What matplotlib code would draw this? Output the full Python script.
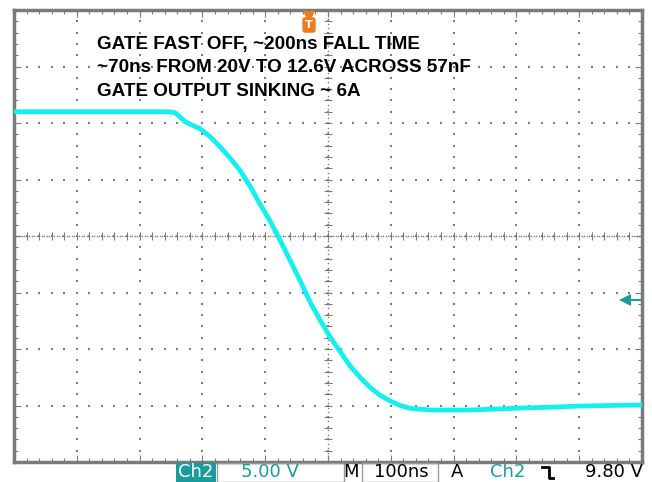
import numpy as np
import matplotlib
matplotlib.use("Agg")
import matplotlib.pyplot as plt
from matplotlib.patches import Rectangle
from matplotlib.lines import Line2D

# trace (time in ns, volts)
time_ns = [-470, -400, -330, -270, -225, -213, -205, -197, -190, -174, -158, -142,
           -126, -110, -94, -78, -62, -46, -30, -14, 2, 18, 33, 49, 65, 81,
           97, 113, 129, 145, 161, 193, 225, 256, 304, 336, 384, 431, 479, 530]
volts = [26.5, 26.5, 26.5, 26.5, 26.5, 26.4, 26.0, 25.6, 25.4, 25.0, 24.3, 23.4,
         22.4, 21.3, 19.9, 18.3, 16.8, 15.1, 13.3, 11.5, 9.6, 8.0, 6.6, 5.3, 4.0, 3.0,
         2.1, 1.4, 0.9, 0.5, 0.25, 0.1, 0.1, 0.1, 0.2, 0.27, 0.35, 0.45, 0.5, 0.55]

title_lines = ["GATE FAST OFF, ~200ns FALL TIME",
               "~70ns FROM 20V TO 12.6V ACROSS 57nF",
               "GATE OUTPUT SINKING ~ 6A"]
ch_label = "Ch2"
volts_div = "5.00 V"
time_div = "100ns"
trig_level = 9.80

W, H = 652, 482
TEAL = "#1a9c9c"
ORANGE = "#f07a1c"
GRAY = "#7a7a7a"


def fx(px):
    return px / W


def fy(py):
    return 1 - py / H


fig = plt.figure(figsize=(W / 100, H / 100), dpi=100)
ax = fig.add_axes([fx(14), fy(462), (642 - 14) / W, (462 - 10) / H])
x0, x1 = -470, 530
y0, y1 = -4.5, 35.5
ax.set_xlim(x0, x1)
ax.set_ylim(y0, y1)

# dotted graticule
xs_major = x0 + 100 * np.arange(1, 10)
ys_major = y0 + 5 * np.arange(1, 8)
xs_minor = x0 + 20 * np.arange(0, 51)
ys_minor = y0 + 1 * np.arange(0, 41)
for xm in xs_major:
    ax.plot(np.full(len(ys_minor), xm), ys_minor, ls="none", marker="s",
            ms=1.5, mew=0, color=GRAY, zorder=1)
for ym in ys_major:
    ax.plot(xs_minor, np.full(len(xs_minor), ym), ls="none", marker="s",
            ms=1.5, mew=0, color=GRAY, zorder=1)

# centre cross with ticks
xc, yc = x0 + 500, y0 + 20
ax.plot(xs_minor, np.full(len(xs_minor), yc), ls="none", marker="|",
        ms=6, mew=0.8, color=GRAY, zorder=1)
ax.plot(np.full(len(ys_minor), xc), ys_minor, ls="none", marker="_",
        ms=6, mew=0.8, color=GRAY, zorder=1)
ax.plot(np.arange(x0, x1, 4), np.full(len(np.arange(x0, x1, 4)), yc),
        ls="none", marker="s", ms=1.0, mew=0, color=GRAY, zorder=1)
ax.plot(np.full(len(np.arange(y0, y1, 0.4)), xc), np.arange(y0, y1, 0.4),
        ls="none", marker="s", ms=1.0, mew=0, color=GRAY, zorder=1)

# border ticks
ax.set_xticks(xs_major)
ax.set_yticks(ys_major)
ax.set_xticks(xs_minor, minor=True)
ax.set_yticks(ys_minor, minor=True)
ax.tick_params(which="both", direction="in", top=True, right=True,
               labelbottom=False, labelleft=False, color=GRAY, width=0.8)
ax.tick_params(which="major", length=5)
ax.tick_params(which="minor", length=3)
for s in ax.spines.values():
    s.set_color("#7a7a7a")
    s.set_linewidth(2.5)

# trace
ax.plot(time_ns, volts, color="#12f0f0", lw=3.4, solid_joinstyle="round",
        zorder=3)

# trigger markers
ax.plot([0], [y1 - 0.6], marker="v", ms=8, color=ORANGE, mew=0,
        clip_on=False, zorder=5)
fig.text(fx(309), fy(25), "T", color="white", fontsize=8, fontweight="bold",
         ha="center", va="center",
         bbox=dict(boxstyle="round,pad=0.25", fc=ORANGE, ec="none"))
ax.plot([503], [trig_level], marker="<", ms=8, color=TEAL, mew=0, zorder=5)
ax.plot([510, 530], [trig_level, trig_level], color=TEAL, lw=1.5, zorder=5)

# annotation text
for i, line in enumerate(title_lines):
    fig.text(fx(97), fy(44 + 24 * i), line, fontsize=13.6, fontweight="bold",
             family="Liberation Sans", ha="left", va="center", color="black")

# status bar
fig.patches.append(Rectangle((fx(176), 0), fx(216) - fx(176), fy(463),
                             transform=fig.transFigure, fc=TEAL, ec="none"))
for a, b in [(217, 344), (362, 438)]:
    fig.patches.append(Rectangle((fx(a), 0), fx(b) - fx(a), fy(463),
                                 transform=fig.transFigure, fc="none",
                                 ec="#9a9a9a", lw=1.0))
ty = fy(472)
fs = 13
fig.text(fx(196), ty, ch_label, color="white", fontsize=fs, ha="center", va="center")
fig.text(fx(270), ty, volts_div, color=TEAL, fontsize=fs, ha="center", va="center")
fig.text(fx(351), ty, "M", color="black", fontsize=fs, ha="center", va="center")
fig.text(fx(401), ty, time_div, color="black", fontsize=fs, ha="center", va="center")
fig.text(fx(457), ty, "A", color="black", fontsize=fs, ha="center", va="center")
fig.text(fx(508), ty, ch_label, color=TEAL, fontsize=fs, ha="center", va="center")
# falling-edge trigger symbol
fig.add_artist(Line2D([fx(542), fx(549), fx(549), fx(553)],
                      [fy(467), fy(467), fy(478), fy(478)],
                      transform=fig.transFigure, color="black", lw=2))
fig.text(fx(643), ty, "%.2f V" % trig_level, color="black", fontsize=fs,
         ha="right", va="center")

fig.savefig("out.png", dpi=100)
